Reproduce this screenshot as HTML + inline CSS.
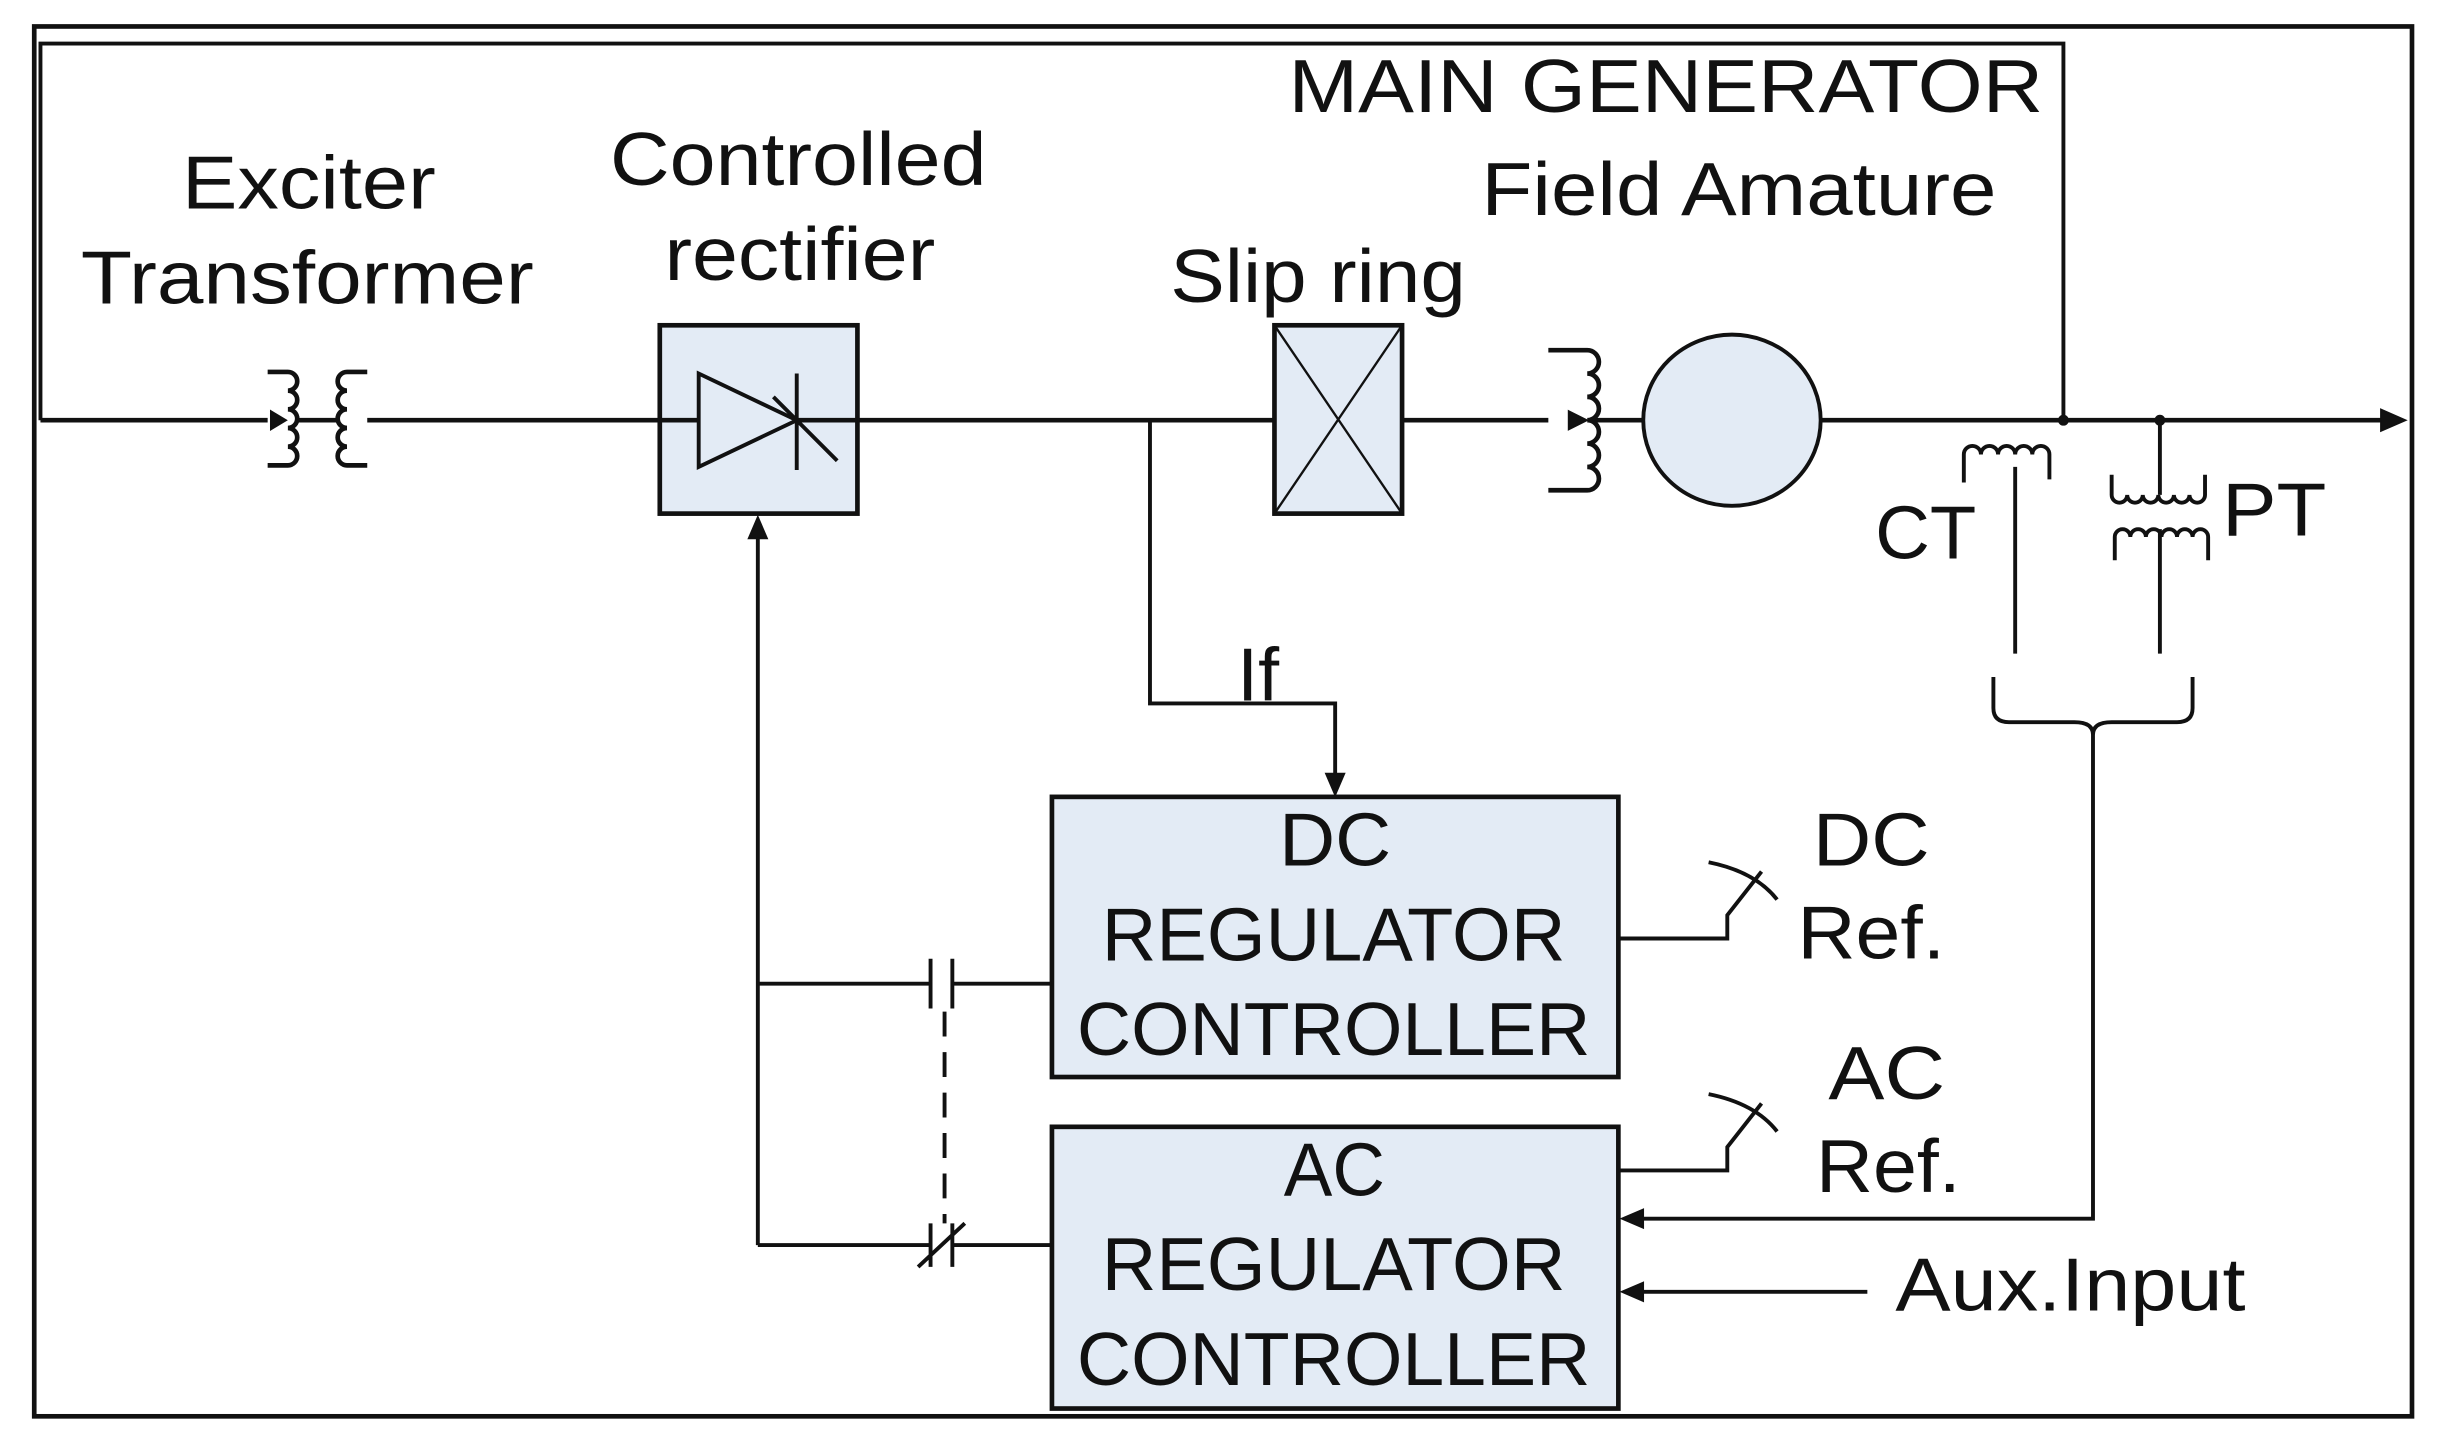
<!DOCTYPE html>
<html><head><meta charset="utf-8"><style>html,body{margin:0;padding:0;background:#fff}svg{display:block}</style></head>
<body>
<svg width="2440" height="1449" viewBox="0 0 1568 931" preserveAspectRatio="none" xmlns="http://www.w3.org/2000/svg" font-family="Liberation Sans, sans-serif" fill="none" stroke="#111">
<rect x="22" y="17" width="1528" height="893" stroke-width="3"/>
<path d="M26 270 V28 H1326 V270" stroke-width="2.5"/>
<path d="M26 270 H1535" stroke-width="3"/>
<path d="M1530 263 L1546 270 L1530 277 Z" fill="#111"/>
<path d="M172 239 H185 a6 6 0 0 1 0 12 a6 6 0 0 1 0 12 a6 6 0 0 1 0 12 a6 6 0 0 1 0 12 a6 6 0 0 1 0 12 H172" stroke-width="3" fill="#fff"/>
<path d="M236 239 H223 a6 6 0 0 0 0 12 a6 6 0 0 0 0 12 a6 6 0 0 0 0 12 a6 6 0 0 0 0 12 a6 6 0 0 0 0 12 H236" stroke-width="3" fill="#fff"/>
<path d="M174 264 L184 270 L174 276 Z" fill="#111"/>
<rect x="424" y="209" width="127" height="121" fill="#e3ebf5" stroke-width="3"/>
<path d="M424 270 H551" stroke-width="3"/>
<path d="M449 240 V300 L512 270 Z" fill="#e3ebf5" stroke-width="2.5"/>
<path d="M512 240 V302 M497 255 L538 296" stroke-width="2.5"/>
<path d="M487 800 V340" stroke-width="2.5"/>
<path d="M481 346 L487 332 L493 346 Z" fill="#111"/>
<path d="M739 270 V452 H858 V500" stroke-width="2.5"/>
<path d="M852 497 L858 511 L864 497 Z" fill="#111"/>
<rect x="819" y="209" width="82" height="121" fill="#e3ebf5" stroke-width="3"/>
<path d="M819 209 L901 330 M901 209 L819 330" stroke-width="1.5"/>
<path d="M995 225 H1020 a7.5 7.5 0 0 1 0 15 a7.5 7.5 0 0 1 0 15 a7.5 7.5 0 0 1 0 15 a7.5 7.5 0 0 1 0 15 a7.5 7.5 0 0 1 0 15 a7.5 7.5 0 0 1 0 15 H995" stroke-width="3" fill="#fff"/>
<path d="M1008 264 L1020 270 L1008 276 Z" fill="#111"/>
<ellipse cx="1113" cy="270" rx="57" ry="55" fill="#e3ebf5" stroke-width="2.5"/>
<circle cx="1326" cy="270" r="3" fill="#111"/>
<circle cx="1388" cy="270" r="3" fill="#111"/>
<path d="M1262 310 V292 a5.5 5.5 0 0 1 11 0 a5.5 5.5 0 0 1 11 0 a5.5 5.5 0 0 1 11 0 a5.5 5.5 0 0 1 11 0 a5.5 5.5 0 0 1 11 0 V308" stroke-width="2.5"/>
<path d="M1295 300 V420" stroke-width="2.5"/>
<path d="M1388 270 V318" stroke-width="2.5"/>
<path d="M1357 305 V318 a5 5 0 0 0 10 0 a5 5 0 0 0 10 0 a5 5 0 0 0 10 0 a5 5 0 0 0 10 0 a5 5 0 0 0 10 0 a5 5 0 0 0 10 0 V305" stroke-width="2.5"/>
<path d="M1359 360 V345 a5 5 0 0 1 10 0 a5 5 0 0 1 10 0 a5 5 0 0 1 10 0 a5 5 0 0 1 10 0 a5 5 0 0 1 10 0 a5 5 0 0 1 10 0 V360" stroke-width="2.5"/>
<path d="M1388 340 V420" stroke-width="2.5"/>
<path d="M1281 435 V455 q0 9 10 9 H1333 q12 0 12 8 q0 -8 12 -8 H1399 q10 0 10 -9 V435" stroke-width="2.5"/>
<path d="M1345 470 V783 H1054" stroke-width="2.5"/>
<path d="M1056 777 L1042 783 L1056 789 Z" fill="#111"/>
<path d="M1200 830 H1054" stroke-width="2.5"/>
<path d="M1056 824 L1042 830 L1056 836 Z" fill="#111"/>
<rect x="676" y="512" width="364" height="180" fill="#e3ebf5" stroke-width="3"/>
<rect x="676" y="724" width="364" height="181" fill="#e3ebf5" stroke-width="3"/>
<path d="M487 632 H598 M612 632 H676 M598 616 V648 M612 616 V648" stroke-width="2.5"/>
<path d="M487 800 H598 M612 800 H676 M598 786 V814 M612 786 V814 M590 814 L620 786" stroke-width="2.5"/>
<path d="M607 650 V786" stroke-width="2.5" stroke-dasharray="16 10"/>
<path d="M1040 603 H1110 V588 L1132 560 M1098 554 Q1128 560 1142 578" stroke-width="2.5"/>
<path d="M1040 752 H1110 V737 L1132 709 M1098 703 Q1128 709 1142 727" stroke-width="2.5"/>
<g fill="#111" stroke="none" font-size="48" lengthAdjust="spacingAndGlyphs">
<text x="117" y="134" textLength="163" lengthAdjust="spacingAndGlyphs">Exciter</text>
<text x="52" y="195" textLength="291" lengthAdjust="spacingAndGlyphs">Transformer</text>
<text x="392" y="119" textLength="242" lengthAdjust="spacingAndGlyphs">Controlled</text>
<text x="427" y="180" textLength="174" lengthAdjust="spacingAndGlyphs">rectifier</text>
<text x="752" y="194" textLength="190" lengthAdjust="spacingAndGlyphs">Slip ring</text>
<text x="828" y="72" textLength="485" lengthAdjust="spacingAndGlyphs">MAIN GENERATOR</text>
<text x="952" y="138" textLength="331" lengthAdjust="spacingAndGlyphs">Field Amature</text>
<text x="1205" y="359" textLength="65" lengthAdjust="spacingAndGlyphs">CT</text>
<text x="1428" y="344" textLength="67" lengthAdjust="spacingAndGlyphs">PT</text>
<text x="795" y="450" textLength="27" lengthAdjust="spacingAndGlyphs">If</text>
<text x="822" y="556" textLength="72" lengthAdjust="spacingAndGlyphs">DC</text>
<text x="708" y="617" textLength="298" lengthAdjust="spacingAndGlyphs">REGULATOR</text>
<text x="692" y="678" textLength="330" lengthAdjust="spacingAndGlyphs">CONTROLLER</text>
<text x="825" y="768" textLength="65" lengthAdjust="spacingAndGlyphs">AC</text>
<text x="708" y="829" textLength="298" lengthAdjust="spacingAndGlyphs">REGULATOR</text>
<text x="692" y="890" textLength="330" lengthAdjust="spacingAndGlyphs">CONTROLLER</text>
<text x="1165" y="556" textLength="75" lengthAdjust="spacingAndGlyphs">DC</text>
<text x="1155" y="616" textLength="95" lengthAdjust="spacingAndGlyphs">Ref.</text>
<text x="1175" y="706" textLength="75" lengthAdjust="spacingAndGlyphs">AC</text>
<text x="1167" y="766" textLength="93" lengthAdjust="spacingAndGlyphs">Ref.</text>
<text x="1218" y="842" textLength="225" lengthAdjust="spacingAndGlyphs">Aux.Input</text>
</g>
</svg>
</body></html>
